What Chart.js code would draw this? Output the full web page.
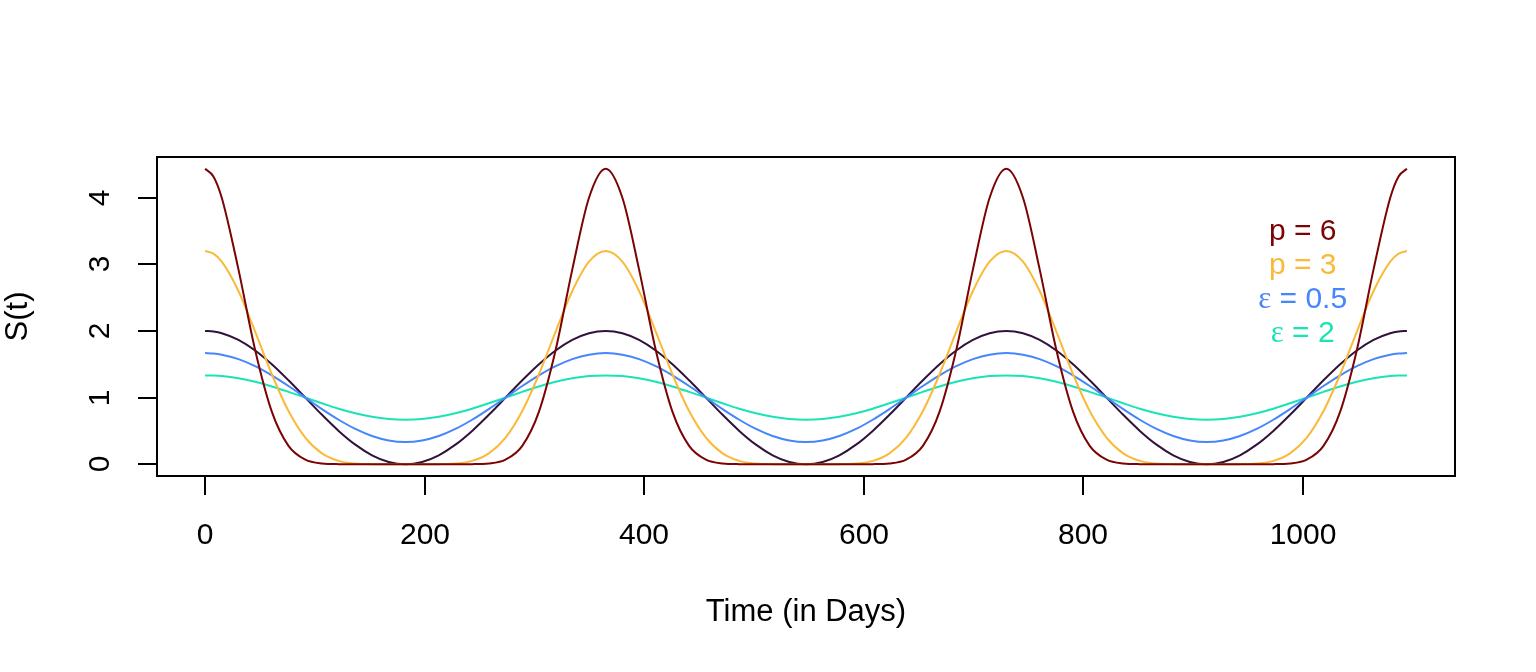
<!DOCTYPE html>
<html>
<head>
<meta charset="utf-8">
<script src="https://cdn.jsdelivr.net/npm/chart.js@4.4.1/dist/chart.umd.min.js"></script>
<style>
html, body { margin: 0; padding: 0; background: #fff; }
</style>
</head>
<body>
<canvas id="myChart" width="1536" height="672"></canvas>
<script>
// days (x values)
var days = [0, 7.6, 15.2, 30.4, 45.6, 60.8, 76.0, 91.3, 106.5, 121.7, 136.9, 152.1, 167.3, 182.5, 197.7, 212.9, 228.1, 243.3, 258.5, 273.8, 289.0, 304.2, 319.4, 334.6, 349.8,
  365.0, 380.2, 395.4, 410.6, 425.8, 441.0, 456.3, 471.5, 486.7, 501.9, 517.1, 532.3, 547.5, 562.7, 577.9, 593.1, 608.3, 623.5, 638.8, 654.0, 669.2, 684.4, 699.6, 714.8,
  730.0, 745.2, 760.4, 775.6, 790.8, 806.0, 821.3, 836.5, 851.7, 866.9, 882.1, 897.3, 912.5, 927.7, 942.9, 958.1, 973.3, 988.5, 1003.8, 1019.0, 1034.2, 1049.4, 1064.6, 1079.8,
  1087.4, 1095.0];

// base curve (dark)
var base = [2, 1.991, 1.966, 1.866, 1.707, 1.5, 1.259, 1, 0.741, 0.5, 0.293, 0.134, 0.034, 0, 0.034, 0.134, 0.293, 0.5, 0.741, 1, 1.259, 1.5, 1.707, 1.866, 1.966,
  2, 1.966, 1.866, 1.707, 1.5, 1.259, 1, 0.741, 0.5, 0.293, 0.134, 0.034, 0, 0.034, 0.134, 0.293, 0.5, 0.741, 1, 1.259, 1.5, 1.707, 1.866, 1.966,
  2, 1.966, 1.866, 1.707, 1.5, 1.259, 1, 0.741, 0.5, 0.293, 0.134, 0.034, 0, 0.034, 0.134, 0.293, 0.5, 0.741, 1, 1.259, 1.5, 1.707, 1.866, 1.966,
  1.991, 2];

var p6 = [4.433, 4.319, 3.999, 2.924, 1.714, 0.789, 0.276, 0.069, 0.011, 0.001, 0, 0, 0, 0, 0, 0, 0, 0.001, 0.011, 0.069, 0.276, 0.789, 1.714, 2.924, 3.999,
  4.433, 3.999, 2.924, 1.714, 0.789, 0.276, 0.069, 0.011, 0.001, 0, 0, 0, 0, 0, 0, 0, 0.001, 0.011, 0.069, 0.276, 0.789, 1.714, 2.924, 3.999,
  4.433, 3.999, 2.924, 1.714, 0.789, 0.276, 0.069, 0.011, 0.001, 0, 0, 0, 0, 0, 0, 0, 0.001, 0.011, 0.069, 0.276, 0.789, 1.714, 2.924, 3.999,
  4.319, 4.433];

var p3 = [3.2, 3.159, 3.039, 2.599, 1.99, 1.35, 0.798, 0.4, 0.163, 0.05, 0.01, 0.001, 0, 0, 0, 0.001, 0.01, 0.05, 0.163, 0.4, 0.798, 1.35, 1.99, 2.599, 3.039,
  3.2, 3.039, 2.599, 1.99, 1.35, 0.798, 0.4, 0.163, 0.05, 0.01, 0.001, 0, 0, 0, 0.001, 0.01, 0.05, 0.163, 0.4, 0.798, 1.35, 1.99, 2.599, 3.039,
  3.2, 3.039, 2.599, 1.99, 1.35, 0.798, 0.4, 0.163, 0.05, 0.01, 0.001, 0, 0, 0, 0.001, 0.01, 0.05, 0.163, 0.4, 0.798, 1.35, 1.99, 2.599, 3.039,
  3.159, 3.2];

var eps05 = [1.667, 1.661, 1.644, 1.577, 1.471, 1.333, 1.173, 1, 0.827, 0.667, 0.529, 0.423, 0.356, 0.333, 0.356, 0.423, 0.529, 0.667, 0.827, 1, 1.173, 1.333, 1.471, 1.577, 1.644,
  1.667, 1.644, 1.577, 1.471, 1.333, 1.173, 1, 0.827, 0.667, 0.529, 0.423, 0.356, 0.333, 0.356, 0.423, 0.529, 0.667, 0.827, 1, 1.173, 1.333, 1.471, 1.577, 1.644,
  1.667, 1.644, 1.577, 1.471, 1.333, 1.173, 1, 0.827, 0.667, 0.529, 0.423, 0.356, 0.333, 0.356, 0.423, 0.529, 0.667, 0.827, 1, 1.173, 1.333, 1.471, 1.577, 1.644,
  1.661, 1.667];

var eps2 = [1.333, 1.330, 1.322, 1.289, 1.236, 1.167, 1.086, 1, 0.914, 0.833, 0.764, 0.711, 0.678, 0.667, 0.678, 0.711, 0.764, 0.833, 0.914, 1, 1.086, 1.167, 1.236, 1.289, 1.322,
  1.333, 1.322, 1.289, 1.236, 1.167, 1.086, 1, 0.914, 0.833, 0.764, 0.711, 0.678, 0.667, 0.678, 0.711, 0.764, 0.833, 0.914, 1, 1.086, 1.167, 1.236, 1.289, 1.322,
  1.333, 1.322, 1.289, 1.236, 1.167, 1.086, 1, 0.914, 0.833, 0.764, 0.711, 0.678, 0.667, 0.678, 0.711, 0.764, 0.833, 0.914, 1, 1.086, 1.167, 1.236, 1.289, 1.322,
  1.330, 1.333];

var xTicks = [0, 200, 400, 600, 800, 1000];
var yTicks = [0, 1, 2, 3, 4];

// legend entries: symbol part, rest, colour
var legendSym = ['p', 'p', '\u03b5', '\u03b5'];
var legendVal = ['6', '3', '0.5', '2'];
var legendCol = ['#7A0403', '#FABA39', '#4686FB', '#1AE4B6'];

function pts(ys) {
  return ys.map((v, i) => ({x: days[i], y: v}));
}

var FONT = '"Liberation Sans", Arial, sans-serif';

// R style box, ticks and labels
var rAxes = {
  id: 'rAxes',
  afterDraw(chart) {
    var ctx = chart.ctx;
    var a = chart.chartArea;
    var xs = chart.scales.x, ys = chart.scales.y;
    ctx.save();
    ctx.strokeStyle = '#000';
    ctx.lineWidth = 2;
    ctx.strokeRect(a.left, a.top, a.right - a.left, a.bottom - a.top);

    ctx.fillStyle = '#000';
    ctx.font = '30px ' + FONT;
    ctx.textAlign = 'center';
    ctx.textBaseline = 'middle';
    xTicks.forEach(function (t) {
      var px = Math.round(xs.getPixelForValue(t));
      ctx.beginPath();
      ctx.moveTo(px, a.bottom);
      ctx.lineTo(px, a.bottom + 19);
      ctx.stroke();
      ctx.fillText(String(t), px, a.bottom + 60);
    });
    yTicks.forEach(function (t) {
      var py = Math.round(ys.getPixelForValue(t));
      ctx.beginPath();
      ctx.moveTo(a.left, py);
      ctx.lineTo(a.left - 19, py);
      ctx.stroke();
      ctx.save();
      ctx.translate(a.left - 56, py);
      ctx.rotate(-Math.PI / 2);
      ctx.fillText(String(t), 0, 0);
      ctx.restore();
    });

    // axis titles
    ctx.font = '31px ' + FONT;
    ctx.fillText('Time (in Days)', (a.left + a.right) / 2, a.bottom + 136);
    ctx.save();
    ctx.translate(18, (a.top + a.bottom) / 2);
    ctx.rotate(-Math.PI / 2);
    ctx.fillText('S(t)', 0, 0);
    ctx.restore();

    // legend text (no box, no lines)
    var cx = xs.getPixelForValue(1000);
    var symFont = '31px "Liberation Serif", "DejaVu Serif", serif';
    var txtFont = '30px ' + FONT;
    for (var i = 0; i < legendSym.length; i++) {
      var y0 = a.top + 75 + i * 34;
      var isEps = legendSym[i] !== 'p';
      ctx.font = isEps ? symFont : txtFont;
      var w1 = ctx.measureText(legendSym[i]).width;
      ctx.font = txtFont;
      var rest = ' = ' + legendVal[i];
      var w2 = ctx.measureText(rest).width;
      var left = cx - (w1 + w2) / 2;
      ctx.fillStyle = legendCol[i];
      ctx.textAlign = 'left';
      ctx.font = isEps ? symFont : txtFont;
      ctx.fillText(legendSym[i], left, y0);
      ctx.font = txtFont;
      ctx.fillText(rest, left + w1, y0);
    }
    ctx.restore();
  }
};

var ctx = document.getElementById('myChart').getContext('2d');
var myChart = new Chart(ctx, {
  type: 'line',
  data: {
    datasets: [
      {label: 'p = 6', data: pts(p6), borderColor: '#7A0403'},
      {label: 'p = 3', data: pts(p3), borderColor: '#FABA39'},
      {label: 'eps = 0.5', data: pts(eps05), borderColor: '#4686FB'},
      {label: 'eps = 2', data: pts(eps2), borderColor: '#1AE4B6'},
      {label: 'base', data: pts(base), borderColor: '#30123B'}
    ]
  },
  options: {
    responsive: false,
    devicePixelRatio: 1,
    animation: false,
    layout: {padding: {left: 157, right: 81, top: 157, bottom: 196}},
    elements: {
      point: {radius: 0},
      line: {borderWidth: 2, cubicInterpolationMode: 'monotone', fill: false}
    },
    scales: {
      x: {type: 'linear', min: -43.8, max: 1138.8, display: false},
      y: {type: 'linear', min: -0.177, max: 4.61, display: false}
    },
    plugins: {legend: {display: false}, tooltip: {enabled: false}}
  },
  plugins: [rAxes]
});
</script>
</body>
</html>
